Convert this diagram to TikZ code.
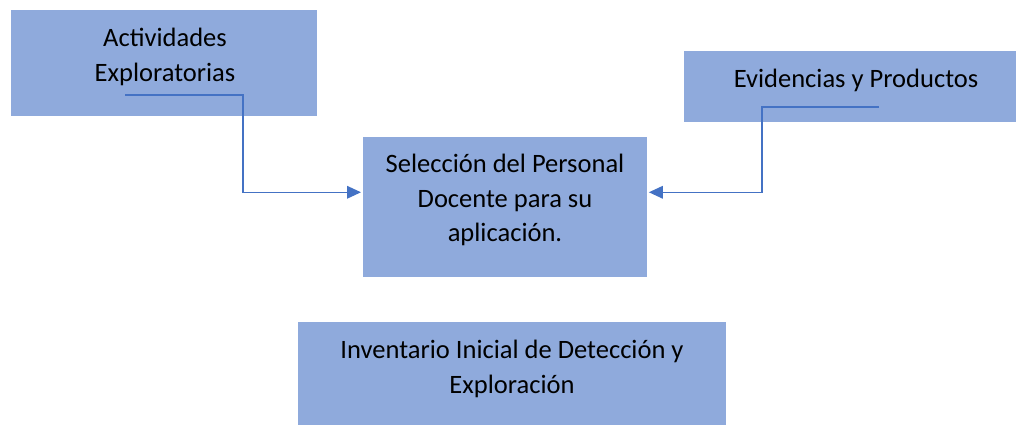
\documentclass[tikz,border=0pt]{standalone}
\usepackage{fontspec}
\setmainfont{Carlito}
\usetikzlibrary{arrows.meta}
\definecolor{boxfill}{HTML}{8FAADC}
\definecolor{linecol}{HTML}{4472C4}
\tikzset{
  box/.style={rectangle, fill=boxfill, draw=none, inner sep=0pt, anchor=north west},
  txt/.style={align=center, inner sep=0pt, font=\fontsize{19.9pt}{26pt}\selectfont},
  conn/.style={draw=linecol, line width=1pt, -{Triangle[length=10.5pt, width=9.5pt]}}
}
\begin{document}
\begin{tikzpicture}[x=0.75pt, y=-0.75pt]
\useasboundingbox (0,0) rectangle (1016,425);
\node[box, minimum width=229.5pt, minimum height=79.5pt] (b1) at (11,10) {};
\node[box, minimum width=249pt, minimum height=53.25pt] (b2) at (684,51) {};
\node[box, minimum width=213pt, minimum height=105pt] (b3) at (363,137) {};
\node[box, minimum width=321pt, minimum height=77.25pt] (b4) at (298,322) {};
\node[txt] (t1) at (165,57) {Actividades\\Exploratorias};
\node[txt] (t2) at (856,80) {Evidencias y Productos};
\node[txt] (t3) at (505,200) {Selección del Personal\\Docente para su\\aplicación.};
\node[txt] (t4) at (512,369) {Inventario Inicial de Detección y\\Exploración};
\coordinate (s1) at (125,95);
\coordinate (s2) at (879,107);
\draw[conn] (s1) -- (243,95) |- ([yshift=11.25pt, xshift=-1.5pt]b3.west);
\draw[conn] (s2) -- (762,107) |- ([yshift=11.25pt, xshift=1pt]b3.east);
\end{tikzpicture}
\end{document}
